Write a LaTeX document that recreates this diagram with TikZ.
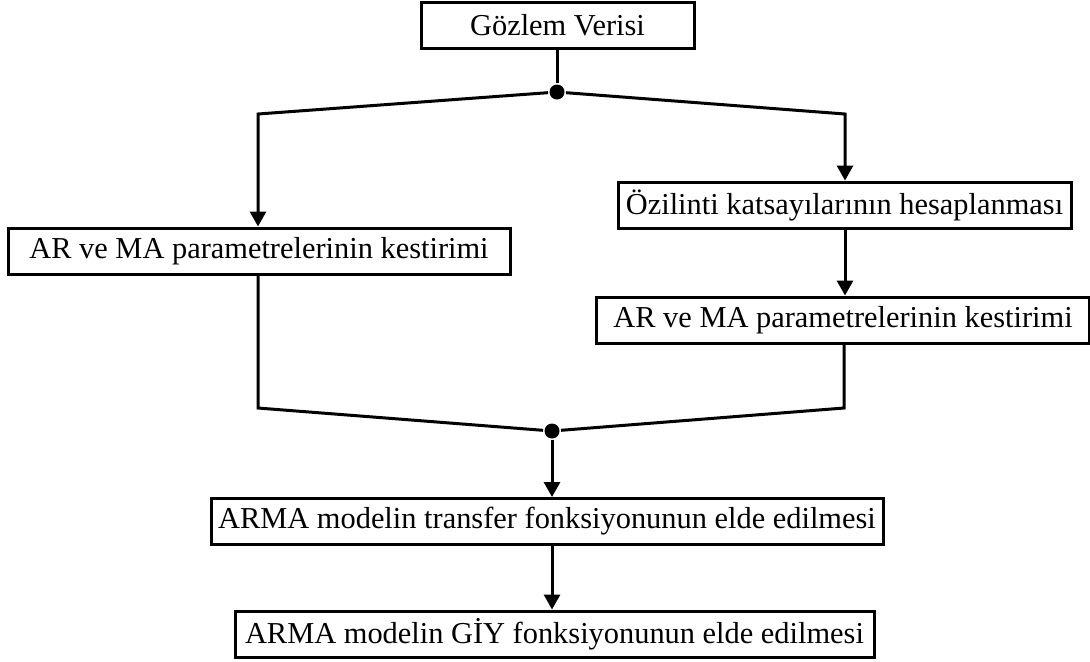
\documentclass[tikz,border=0pt]{standalone}
\usepackage{fontspec}
\setmainfont{Liberation Serif}
\usetikzlibrary{calc,arrows.meta}

\begin{document}
\begin{tikzpicture}[x=0.5pt,y=-0.5pt,line width=1.5pt,
    stage/.style={draw,line width=1.5pt,minimum height=23pt,inner sep=0pt,font={\fontsize{15.2}{18}\selectfont}},
    junction/.style={circle,fill,inner sep=0pt,minimum size=7.5pt},
    flow/.style={-{Triangle[length=7.5pt,width=8pt]}}]
                \useasboundingbox (0,0) rectangle (1090,661);

                \node[stage,minimum width=136.5pt] (gozlem) at (557.5,25) {Gözlem Verisi};
                \node[junction] (split) at (557,92) {};
                \coordinate (splitL) at ($ (split) + (-299,22) $);
                \coordinate (splitR) at ($ (split) + (288,22) $);

                \node[stage,minimum width=251pt] (arleft) at (259,251) {AR ve MA parametrelerinin kestirimi};
                \node[stage,minimum width=226.5pt] (ozil) at (844.5,205) {Özilinti katsayılarının hesaplanması};
                \node[stage,minimum width=246.5pt] (arright) at (843,320) {AR ve MA parametrelerinin kestirimi};

                \coordinate (mergeL) at (258,408);
                \coordinate (mergeR) at (844,408);
                \node[junction] (merge) at (552,431) {};

                \node[stage,minimum width=336pt] (transfer) at (547,521.5) {ARMA modelin transfer fonksiyonunun elde edilmesi};
                \node[stage,minimum width=319.5pt] (giy) at (554.5,634) {ARMA modelin GİY fonksiyonunun elde edilmesi};

                \draw (gozlem.south -| split) -- (split);
                \draw[flow] (split) -- (splitL) -- (splitL |- arleft.north);
                \draw[flow] (split) -- (splitR) -- (splitR |- ozil.north);
                \draw[flow] (ozil.south -| splitR) -- (splitR |- arright.north);
                \draw (arleft.south -| mergeL) -- (mergeL) -- (merge);
                \draw (arright.south -| mergeR) -- (mergeR) -- (merge);
                \draw[flow] (merge) -- (merge |- transfer.north);
                \draw[flow] (merge |- transfer.south) -- (merge |- giy.north);
            \end{tikzpicture}
\end{document}
